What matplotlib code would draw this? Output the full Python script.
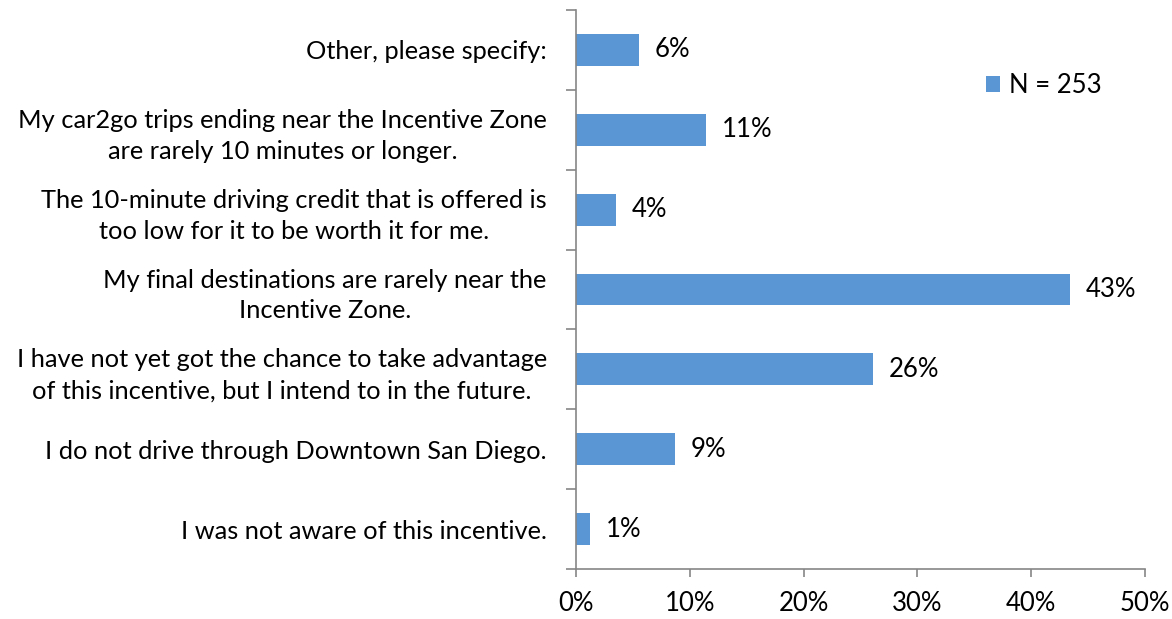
import matplotlib.pyplot as plt
from matplotlib.ticker import FixedLocator

# categories top to bottom
categories = [
    "Other, please specify:",
    "My car2go trips ending near the Incentive Zone\nare rarely 10 minutes or longer.",
    "The 10-minute driving credit that is offered is\ntoo low for it to be worth it for me.",
    "My final destinations are rarely near the\nIncentive Zone.",
    "I have not yet got the chance to take advantage\nof this incentive, but I intend to in the future.",
    "I do not drive through Downtown San Diego.",
    "I was not aware of this incentive.",
]
values = [5.5, 11.4, 3.5, 43.4, 26.1, 8.7, 1.2]
value_labels = ["6%", "11%", "4%", "43%", "26%", "9%", "1%"]
x_ticks = [0, 10, 20, 30, 40, 50]
series_name = "N = 253"

plt.rcParams['font.family'] = ['Lato', 'DejaVu Sans']

fig = plt.figure(figsize=(11.72, 6.19), dpi=100)
ax = fig.add_axes([0.4915, 0.0808, 0.4855, 0.903])

n = len(categories)
ypos = list(range(n - 1, -1, -1))
bar_color = '#5a96d3'
ax.barh(ypos, values, height=0.4, color=bar_color, label=series_name, zorder=2)

for y, v, lab in zip(ypos, values, value_labels):
    ax.text(v + 1.4, y, lab, va='center', ha='left', fontsize=18.5)

ax.set_xlim(0, 50)
ax.set_ylim(-0.5, n - 0.5)
ax.set_xticks(x_ticks)
ax.set_xticklabels([f"{t}%" for t in x_ticks], fontsize=18.5)

ax.set_yticks(ypos)
ax.set_yticklabels(categories, fontsize=18.3, multialignment='center', linespacing=1.42)
ax.tick_params(axis='y', which='major', length=0, pad=21)
ax.yaxis.set_minor_locator(FixedLocator([i - 0.5 for i in range(n + 1)]))
ax.tick_params(axis='y', which='minor', length=7, color='#868686', width=1.2)
ax.tick_params(axis='x', which='major', length=6, color='#868686', width=1.2, pad=10)

for side in ['top', 'right']:
    ax.spines[side].set_visible(False)
for side in ['left', 'bottom']:
    ax.spines[side].set_color('#868686')
    ax.spines[side].set_linewidth(1.2)

ax.legend(loc='center left', bbox_to_anchor=(0.68, 0.865), frameon=False,
          fontsize=18.5, handlelength=0.55, handleheight=0.55, handletextpad=0.35)

fig.savefig('out.png', dpi=100)
